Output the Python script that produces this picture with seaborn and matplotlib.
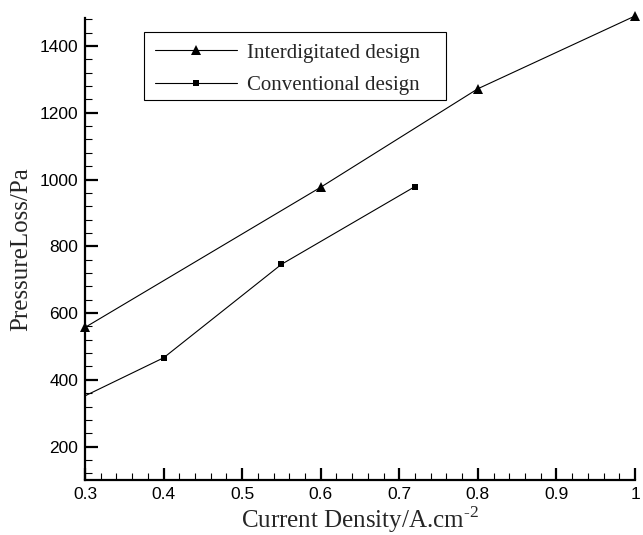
import matplotlib
matplotlib.use("Agg")
import matplotlib.pyplot as plt
from matplotlib.ticker import MultipleLocator
from matplotlib.patches import Rectangle
import seaborn as sns
import pandas as pd

# Pressure loss versus current density for two flow-field designs
interdigitated_x = [0.3, 0.6, 0.8, 1.0]
interdigitated_y = [557, 977, 1272, 1490]
conventional_x = [0.3, 0.4, 0.55, 0.72]
conventional_y = [352, 466, 746, 979]
series_names = ["Interdigitated design", "Conventional design"]
x_tick_labels = ["0.3", "0.4", "0.5", "0.6", "0.7", "0.8", "0.9", "1"]
y_tick_values = [200, 400, 600, 800, 1000, 1200, 1400]

sns.set_theme(style="ticks")
plt.rcParams["font.family"] = ["Liberation Sans", "DejaVu Sans"]
plt.rcParams["mathtext.fontset"] = "custom"
plt.rcParams["mathtext.rm"] = "Liberation Serif"

df_a = pd.DataFrame({"x": interdigitated_x, "y": interdigitated_y})
df_b = pd.DataFrame({"x": conventional_x, "y": conventional_y})

fig = plt.figure(figsize=(6.43, 5.35), dpi=100)
ax = fig.add_axes([0.1322, 0.1028, 0.8554, 0.8636])

sns.lineplot(data=df_a, x="x", y="y", ax=ax, color="black", lw=0.8,
             marker="^", markersize=6.5, markeredgewidth=0, clip_on=False,
             label=series_names[0])
sns.lineplot(data=df_b, x="x", y="y", ax=ax, color="black", lw=0.8,
             marker="s", markersize=5, markeredgewidth=0, markevery=[1, 2, 3],
             clip_on=False, label=series_names[1])

ax.set_xlim(0.3, 1.0)
ax.set_ylim(100, 1484)
ax.xaxis.set_minor_locator(MultipleLocator(0.02))
ax.yaxis.set_minor_locator(MultipleLocator(40))
ax.set_xticks([0.3, 0.4, 0.5, 0.6, 0.7, 0.8, 0.9, 1.0])
ax.set_xticklabels(x_tick_labels)
ax.set_yticks(y_tick_values)

for side in ("top", "right"):
    ax.spines[side].set_visible(False)
for side in ("left", "bottom"):
    ax.spines[side].set_linewidth(1.6)
    ax.spines[side].set_color("black")

ax.tick_params(which="major", direction="in", length=9, width=1.6,
               colors="black", labelsize=12.5, pad=5)
ax.tick_params(which="minor", direction="in", length=5, width=0.8,
               colors="black")

ax.set_xlabel(r"Current Density/A.cm$^{\text{-2}}$", family="Liberation Serif",
              fontsize=18, labelpad=2)
ax.set_ylabel("PressureLoss/Pa", family="Liberation Serif", fontsize=18,
              labelpad=5)

# Legend entries without their own frame; a plain box is drawn around them
leg = ax.legend(loc="upper left", bbox_to_anchor=(0.1273, 0.946),
                frameon=False, prop={"family": "Liberation Serif", "size": 15},
                handlelength=3.95, borderpad=0, labelspacing=0.62,
                handletextpad=0.48, borderaxespad=0)
ax.add_patch(Rectangle((0.107, 0.8225), 0.549, 0.1475,
                       transform=ax.transAxes, fill=False,
                       edgecolor="black", linewidth=0.8, zorder=5))

fig.savefig("out.png", dpi=100)
